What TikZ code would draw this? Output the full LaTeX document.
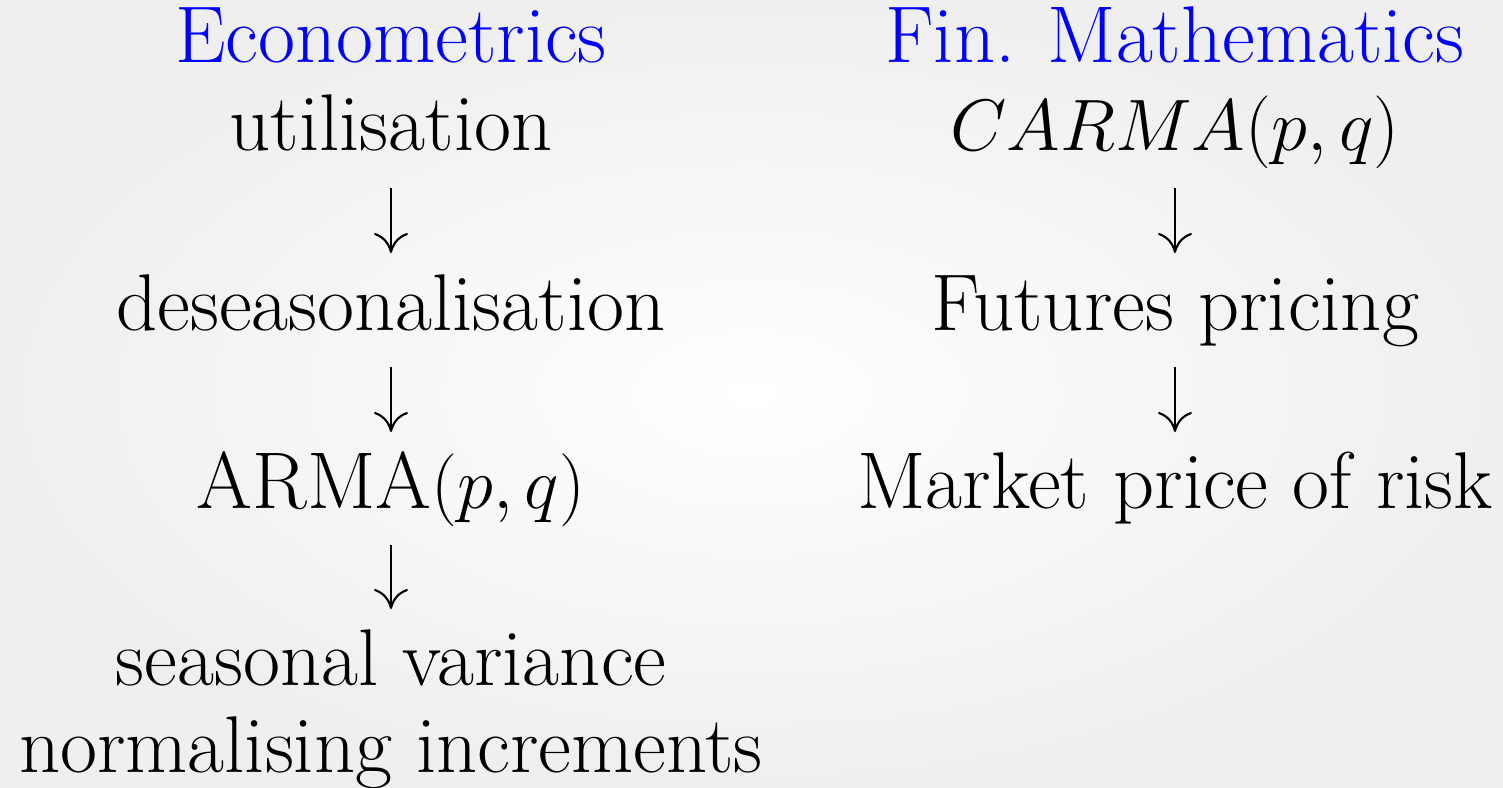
\documentclass[tikz,border=0pt]{standalone}
\usepackage{amsmath,amssymb}
\usepackage{xcolor}
\usepackage{tikz}
\usetikzlibrary{arrows.meta,positioning,calc}
\definecolor{headblue}{HTML}{0000FF}
\definecolor{bgrim}{HTML}{EFEFEF}
\newcommand{\smallmath}[1]{{\fontsize{20.3}{24}\selectfont$#1$}}

\begin{document}
\begin{tikzpicture}[font=\fontsize{22.9}{27}\selectfont,
    txt/.style={inner sep=0pt,anchor=base},
    head/.style={txt,text=headblue},
    flow/.style={-{Computer Modern Rightarrow[length=2mm,width=3.4mm]},line width=0.6pt}]
    \useasboundingbox (0,0) rectangle (15.03,7.87);
    \shade[inner color=white,outer color=bgrim] (0,0) rectangle (15.03,7.87);
    % econometrics column
    \node[head] (eco) at (3.91,7.25) {Econometrics};
    \node[txt] (util) at (3.91,6.37) {utilisation};
    \node[txt] (deseas) at (3.91,4.57) {deseasonalisation};
    \node[txt] (arma) at (3.91,2.79) {ARMA\smallmath{(p,q)}};
    \node[txt] (seas) at (3.91,1.02) {seasonal variance};
    \node[txt] (norm) at (3.91,0.15) {normalising increments};
    \draw[flow] ([yshift=-0.38cm]util.base) -- ([yshift=0.77cm]deseas.base);
    \draw[flow] ([yshift=-0.37cm]deseas.base) -- ([yshift=0.76cm]arma.base);
    \draw[flow] ([yshift=-0.37cm]arma.base) -- ([yshift=0.76cm]seas.base);
    % fin. mathematics column
    \node[head] (finm) at (11.75,7.25) {Fin. Mathematics};
    \node[txt] (carma) at (11.75,6.37) {\smallmath{CARMA(p,q)}};
    \node[txt] (fut) at (11.75,4.57) {Futures pricing};
    \node[txt] (mpr) at (11.75,2.79) {Market price of risk};
    \draw[flow] ([yshift=-0.38cm]carma.base) -- ([yshift=0.77cm]fut.base);
    \draw[flow] ([yshift=-0.37cm]fut.base) -- ([yshift=0.76cm]mpr.base);
\end{tikzpicture}
\end{document}
